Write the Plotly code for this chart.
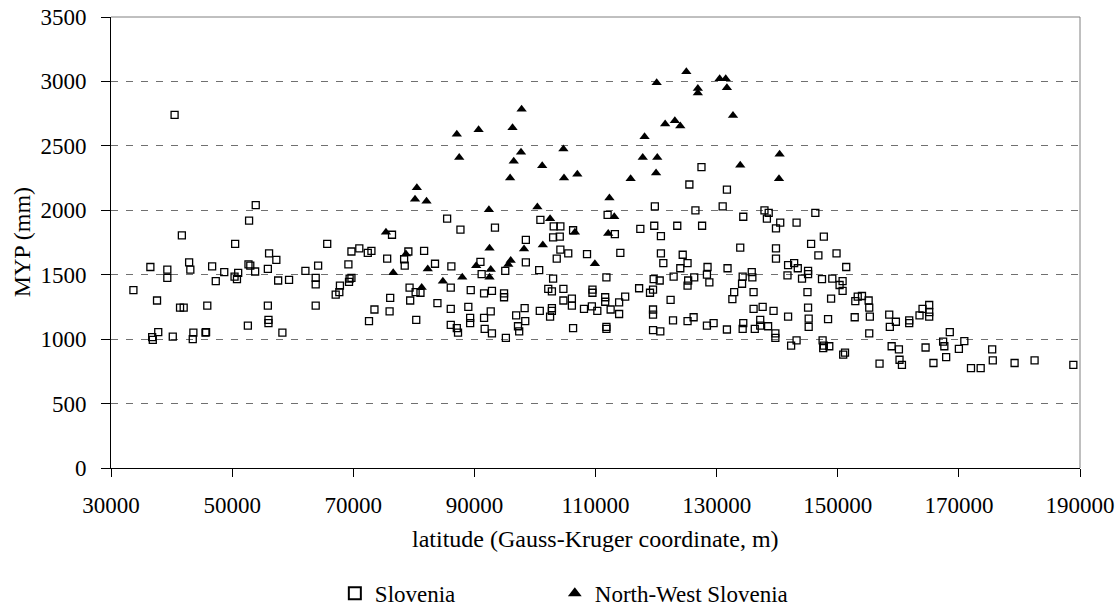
import plotly.graph_objects as go

# ---- data ----
slo_lat = [40500, 53900, 52800, 41700, 50500, 36500, 39300, 39300, 42900, 43100,
           46700, 48700, 47300, 50400, 50800, 51000, 52700, 53000, 53800, 33700,
           37600, 41400, 42000, 45900, 52600, 37800, 36800, 36900, 40200, 43600,
           43500, 45600, 45700, 65700, 56100, 57300, 55900, 62100, 64200, 57600,
           59400, 63800, 63800, 69700, 71000, 72400, 73000, 69200, 69400, 69700,
           69300, 67800, 67700, 67100, 55900, 63800, 56000, 56000, 58300, 73500,
           72600, 85500, 87700, 93400, 76400, 79100, 81700, 75600, 78400, 78500,
           83500, 86200, 91000, 91200, 95100, 79300, 80300, 81100, 76100, 79400,
           86100, 89400, 91600, 92900, 94900, 94900, 83900, 76000, 86100, 89000,
           92700, 80400, 89300, 89300, 91600, 86100, 87100, 87300, 91700, 92900,
           95200, 100900, 103100, 104200, 103000, 104100, 106300, 112000, 113200, 98500,
           104200, 103600, 105500, 108600, 114100, 98500, 100700, 103000, 111800, 102200,
           102800, 104700, 109500, 109500, 111600, 111600, 114900, 96900, 98300, 100800,
           102800, 102800, 102500, 104700, 106100, 106100, 108100, 109400, 110300, 112500,
           113900, 113900, 97200, 97400, 98400, 106300, 111800, 111800, 127500, 125500,
           131700, 119800, 126500, 131000, 134400, 117400, 119700, 123500, 127600, 120800,
           120800, 121200, 124400, 124000, 125200, 128500, 128400, 131800, 133900, 122900,
           119600, 120600, 125300, 125200, 126300, 128800, 117200, 119500, 119000, 122400,
           134300, 135800, 135900, 134200, 132900, 132600, 136100, 136100, 119500, 119500,
           122800, 125200, 126200, 128400, 129500, 119500, 120700, 131700, 134400, 134300,
           136300, 137900, 138600, 138300, 139800, 140500, 143200, 146300, 147700, 145600,
           146800, 149800, 139800, 139800, 141800, 142800, 143400, 145100, 145100, 141700,
           144100, 147400, 149100, 150800, 150300, 150800, 151400, 145000, 148900, 152900,
           153300, 154000, 155100, 155200, 137600, 139400, 145100, 141800, 145200, 148400,
           152800, 155300, 137200, 137200, 138500, 145200, 139700, 139700, 143200, 142300,
           147500, 147700, 148600, 147600, 155200, 151200, 150900, 156900, 165100, 164000,
           165100, 163500, 165100, 158500, 159600, 158600, 161800, 161800, 168500, 158900,
           160100, 164500, 167400, 167600, 170900, 170000, 160200, 160600, 165800, 167900,
           175500, 175600, 172000, 173600, 179200, 182500, 188900]
slo_myp = [2740, 2040, 1920, 1805, 1740, 1560, 1540, 1475, 1595, 1540,
           1565, 1520, 1450, 1485, 1465, 1515, 1580, 1570, 1525, 1380,
           1300, 1245, 1245, 1260, 1105, 1055, 1015, 995, 1020, 1050,
           1000, 1050, 1055, 1740, 1665, 1615, 1545, 1530, 1570, 1455,
           1460, 1475, 1425, 1680, 1705, 1670, 1685, 1580, 1470, 1475,
           1445, 1415, 1365, 1345, 1260, 1260, 1150, 1125, 1050, 1230,
           1140, 1935, 1850, 1865, 1810, 1680, 1685, 1625, 1620, 1570,
           1585, 1565, 1600, 1505, 1530, 1400, 1365, 1360, 1320, 1300,
           1400, 1380, 1355, 1375, 1355, 1325, 1280, 1215, 1235, 1250,
           1215, 1150, 1165, 1125, 1165, 1110, 1085, 1050, 1080, 1045,
           1010, 1925, 1875, 1875, 1790, 1795, 1845, 1965, 1815, 1770,
           1695, 1625, 1665, 1660, 1670, 1595, 1535, 1470, 1480, 1390,
           1370, 1390, 1385, 1360, 1325, 1290, 1330, 1185, 1240, 1220,
           1240, 1220, 1175, 1300, 1315, 1260, 1235, 1255, 1220, 1230,
           1285, 1195, 1100, 1060, 1140, 1085, 1095, 1080, 2335, 2200,
           2160, 2030, 2000, 2030, 1950, 1855, 1880, 1880, 1880, 1800,
           1665, 1590, 1655, 1550, 1590, 1560, 1500, 1550, 1710, 1485,
           1465, 1455, 1455, 1415, 1480, 1440, 1395, 1385, 1360, 1305,
           1485, 1520, 1480, 1430, 1365, 1310, 1365, 1235, 1230, 1190,
           1145, 1140, 1170, 1105, 1125, 1070, 1060, 1075, 1125, 1080,
           1080, 2000, 1980, 1935, 1860, 1905, 1905, 1980, 1795, 1740,
           1650, 1665, 1705, 1625, 1575, 1590, 1550, 1530, 1505, 1495,
           1470, 1465, 1470, 1450, 1420, 1375, 1560, 1365, 1315, 1295,
           1330, 1335, 1300, 1245, 1250, 1220, 1245, 1175, 1160, 1155,
           1170, 1175, 1150, 1105, 1100, 1095, 1045, 1010, 990, 950,
           990, 950, 945, 930, 1045, 895, 880, 810, 1265, 1235,
           1210, 1185, 1175, 1190, 1135, 1095, 1145, 1125, 1055, 945,
           920, 935, 980, 945, 985, 925, 840, 800, 815, 860,
           920, 835, 775, 775, 815, 835, 800]

nw_lat = [87100, 90700, 87500, 80500, 80200, 82100, 92400, 75400, 92500, 90300,
          92700, 92500, 76600, 82300, 84800, 88000, 78700, 81300, 97800, 96300,
          97700, 96500, 95900, 104700, 101200, 104800, 107000, 115800, 100400, 102500,
          106600, 112300, 113100, 112100, 98200, 101300, 96000, 95600, 109900, 125000,
          120100, 126900, 126900, 130500, 131500, 131700, 132700, 123100, 121500, 124000,
          118100, 117800, 120200, 120000, 133900, 140400, 140300]
nw_myp = [2590, 2625, 2410, 2175, 2085, 2070, 2005, 1830, 1705, 1570,
          1540, 1480, 1515, 1545, 1450, 1480, 1660, 1400, 2785, 2640,
          2450, 2380, 2250, 2475, 2345, 2250, 2280, 2245, 2025, 1935,
          1830, 2095, 1950, 1820, 1700, 1730, 1610, 1580, 1585, 3075,
          2990, 2945, 2910, 3020, 3020, 2950, 2735, 2695, 2670, 2655,
          2570, 2410, 2410, 2290, 2350, 2435, 2245]

x_ticks = [30000, 50000, 70000, 90000, 110000, 130000, 150000, 170000, 190000]
y_ticks = [0, 500, 1000, 1500, 2000, 2500, 3000, 3500]

FONT = "Liberation Serif, Times New Roman, serif"
FS = 23
TS = 24

fig = go.Figure()
fig.add_trace(go.Scatter(
    x=slo_lat, y=slo_myp, mode="markers", name="Slovenia", legend="legend",
    marker=dict(symbol="square-open", size=7, color="black", line=dict(width=1.3, color="black")),
))
fig.add_trace(go.Scatter(
    x=nw_lat, y=nw_myp, mode="markers", name="North-West Slovenia", legend="legend2",
    marker=dict(symbol="triangle-up", size=9, color="black", line=dict(width=0)),
))

leg_common = dict(orientation="h", xanchor="left", y=-0.278, yanchor="middle",
                  font=dict(family=FONT, size=FS, color="black"),
                  itemsizing="constant", bgcolor="rgba(0,0,0,0)")

fig.update_layout(
    width=1119, height=608,
    margin=dict(l=111, r=39, t=17, b=140, autoexpand=False),
    paper_bgcolor="white", plot_bgcolor="white",
    font=dict(family=FONT, size=FS, color="black"),
    showlegend=True,
    legend=dict(x=0.231, **leg_common),
    legend2=dict(x=0.458, **leg_common),
    xaxis=dict(range=[30000, 190000], tickvals=x_ticks, ticktext=[str(v) for v in x_ticks],
               showgrid=False, zeroline=False, showline=True, linecolor="black", linewidth=1,
               ticks="outside", ticklen=8, tickcolor="black", tickwidth=1,
               ticklabelstandoff=8, tickfont=dict(family=FONT, size=FS, color="black")),
    yaxis=dict(range=[0, 3500], tickvals=y_ticks, ticktext=[str(v) for v in y_ticks],
               showgrid=True, gridcolor="#707070", gridwidth=1, griddash="7px,8px",
               zeroline=False, showline=True, linecolor="black", linewidth=1,
               ticks="outside", ticklen=9, tickcolor="black", tickwidth=1,
               ticklabelstandoff=10, tickfont=dict(family=FONT, size=FS, color="black")),
    annotations=[
        dict(text="latitude (Gauss-Kruger coordinate, m)", xref="paper", yref="paper",
             x=0.5, y=-0.158, xanchor="center", yanchor="middle", showarrow=False,
             font=dict(family=FONT, size=TS, color="black")),
        dict(text="MYP (mm)", xref="paper", yref="paper", textangle=-90,
             x=-0.092, y=0.5, xanchor="center", yanchor="middle", showarrow=False,
             font=dict(family=FONT, size=TS, color="black")),
    ],
    shapes=[
        dict(type="line", xref="paper", yref="paper", x0=0, x1=1, y0=1, y1=1,
             line=dict(color="#808080", width=1), layer="above"),
        dict(type="line", xref="paper", yref="paper", x0=1, x1=1, y0=0, y1=1,
             line=dict(color="#808080", width=1), layer="above"),
    ],
)

fig.write_html("out.html")
